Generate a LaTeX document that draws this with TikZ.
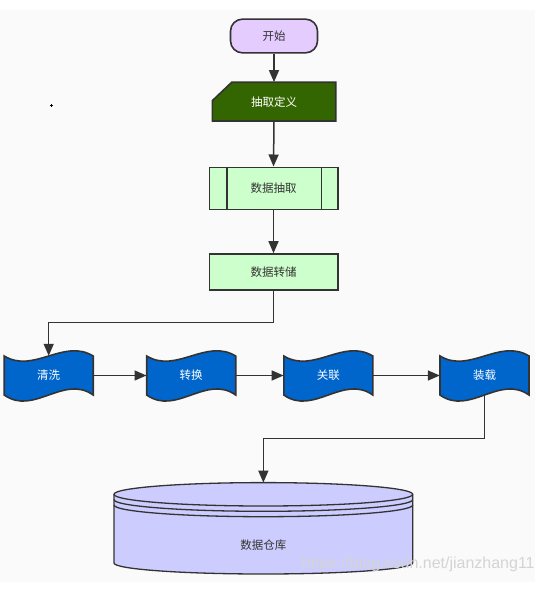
\documentclass[tikz,border=0pt]{standalone}
\usepackage{fontspec}
\newfontfamily\cjk{Noto Sans CJK SC}
\newfontfamily\lib{Liberation Sans}
\usetikzlibrary{arrows.meta}
\definecolor{bgc}{HTML}{FAFAFA}
\definecolor{ln}{HTML}{333333}
\definecolor{pur}{HTML}{E5CCFF}
\definecolor{dgreen}{HTML}{336600}
\definecolor{lgreen}{HTML}{CCFFCC}
\definecolor{wblue}{HTML}{0066CC}
\definecolor{lblue}{HTML}{CCCCFF}
\definecolor{wm}{HTML}{D4D4D4}
\newcommand\mywave[4]{%
  \path[shp, fill=wblue] (#2-44.5,#3-20) .. controls (#2-14.8,#3-2) and (#2+14.8,#3-38) .. (#2+44.5,#3-20)
    -- (#2+44.5,#3+19) .. controls (#2+14.8,#3-2) and (#2-14.8,#3+40) .. (#2-44.5,#3+19) -- cycle;
  \node[ghost, minimum width=89pt, minimum height=39pt] (#1) at (#2,#3-0.5) {#4};}
\begin{document}
\begin{tikzpicture}[x=1pt,y=-1pt,
  lbl/.style={font=\cjk\fontsize{11.5}{13}\selectfont, text=ln},
  box/.style={draw=ln, line width=1.6pt, inner sep=0pt, lbl},
  conn/.style={draw=ln, line width=1.5pt, -{Triangle[length=12pt,width=10pt]}},
  ghost/.style={inner sep=0pt, lbl, text=white},
  shp/.style={draw=ln, line width=1.6pt}]
\useasboundingbox (0,0) rectangle (535,599);
\fill[white] (0,0) rectangle (535,599);
\fill[bgc] (0,10) rectangle (535,581.5);
\draw[line width=0.6pt] (49.8,105.3) -- (52.8,105.3) (51.3,103.8) -- (51.3,106.8);

% start
\node[box, fill=pur, rounded corners=12pt, minimum width=87pt, minimum height=33.7pt] (start) at (274,36) {开始};
% manual input
\path[shp, fill=dgreen] (231.7,82.3) -- (335.7,82.3) -- (335.7,121) -- (212.3,121) -- (212.3,100.7) -- cycle;
\node[ghost, minimum width=123.4pt, minimum height=38.7pt] (def) at (274,101.65) {抽取定义};
% predefined process
\node[box, fill=lgreen, minimum width=128.4pt, minimum height=42pt] (cq) at (273.5,188.3) {数据抽取};
\draw[shp] ([xshift=18.4pt]cq.north west) -- ([xshift=18.4pt]cq.south west);
\draw[shp] ([xshift=-17pt]cq.north east) -- ([xshift=-17pt]cq.south east);
% process
\node[box, fill=lgreen, minimum width=128.4pt, minimum height=36pt] (zc) at (273.5,272) {数据转储};

% waves
\mywave{qx}{48.7}{376}{清洗}
\mywave{zh}{191.2}{376}{转换}
\mywave{gl}{328.3}{376}{关联}
\mywave{zz}{484.5}{376}{装载}

% cylinder
\fill[lblue] (114,494.3) -- (114,563) arc[start angle=180,end angle=360,x radius=149.35pt,y radius=11pt]
  -- (412.7,494.3) arc[start angle=0,end angle=180,x radius=149.35pt,y radius=11.7pt] -- cycle;
\draw[shp, line width=1.3pt] (114,494.3) -- (114,563) arc[start angle=180,end angle=360,x radius=149.35pt,y radius=11pt] -- (412.7,494.3);
\draw[shp, line width=1.3pt] (263.35,494.3) ellipse[x radius=149.35pt, y radius=11.7pt];
\draw[shp, line width=1.3pt] (114,499.6) arc[start angle=180,end angle=360,x radius=149.35pt,y radius=11.7pt];
\draw[shp, line width=1.3pt] (114,505) arc[start angle=180,end angle=360,x radius=149.35pt,y radius=11.7pt];
\node[inner sep=0pt, minimum width=298.7pt, minimum height=80pt, anchor=north] (dw) at (263.35,482.6) {};
\node[lbl] (dwt) at (263.35,545) {数据仓库};

% connectors
\coordinate (k1) at (0,322.3);
\coordinate (k2) at (0,438.3);
\draw[conn] (start.south) -- (def.north);
\draw[conn] (def.south) -- (cq.north);
\draw[conn] (cq.south) -- (zc.north);
\draw[conn] (zc.south) -- (zc.south |- k1) -| (qx.north);
\draw[conn] (qx.east) -- (zh.west);
\draw[conn] (zh.east) -- (gl.west);
\draw[conn] (gl.east) -- (zz.west);
\draw[conn] (zz.south) -- (zz.south |- k2) -| (dw.north);

% watermark
\node[anchor=base west, inner sep=0pt, text=wm, font=\lib\fontsize{16}{16}\selectfont] (wmk) at (301.7,568) {https://blog.csdn.net/jianzhang11};
\end{tikzpicture}
\end{document}
